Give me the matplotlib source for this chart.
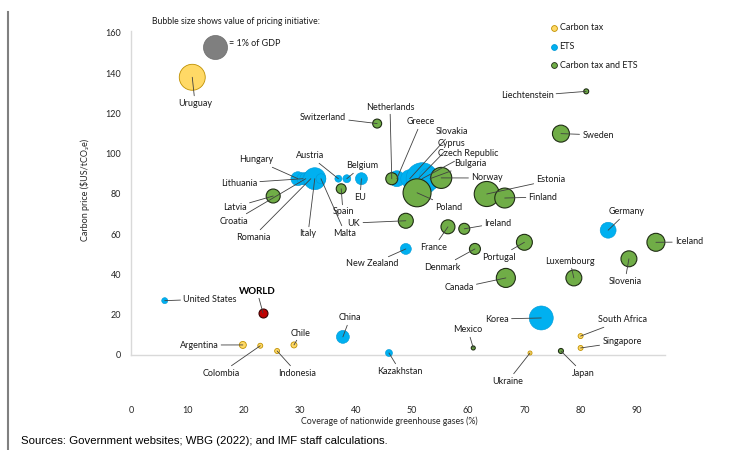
import matplotlib
matplotlib.use("Agg")
import matplotlib.pyplot as plt
from matplotlib.lines import Line2D

# ---------------- data ----------------
tax_names = ["Uruguay", "Argentina", "Colombia", "Indonesia", "Chile", "Ukraine",
             "South Africa", "Singapore"]
tax_cov = [10.9, 19.9, 23.0, 26.0, 29.0, 71.0, 80.0, 80.0]
tax_price = [138.0, 5.0, 4.6, 2.0, 5.0, 1.0, 9.4, 3.5]
tax_value = [1.17, 0.085, 0.043, 0.043, 0.063, 0.028, 0.043, 0.043]

ets_names = ["United States", "China", "Kazakhstan", "Korea", "New Zealand", "Germany",
             "Hungary", "Lithuania", "Croatia", "Romania", "Italy", "Malta", "Austria",
             "Belgium", "EU", "Greece", "Slovakia", "Cyprus", "Czech Republic", "Bulgaria"]
ets_cov = [6.0, 37.7, 45.9, 73.0, 48.9, 84.9,
           29.7, 30.6, 31.1, 32.0, 32.7, 33.8, 36.9,
           38.4, 41.0, 47.3, 49.6, 51.1, 51.8, 53.2]
ets_price = [27.0, 9.0, 1.0, 18.4, 52.7, 62.0,
             87.6, 87.6, 87.6, 87.6, 87.6, 87.6, 87.6,
             87.6, 87.6, 87.6, 87.6, 87.6, 87.6, 87.6]
ets_value = [0.063, 0.29, 0.085, 1.0, 0.21, 0.44,
             0.34, 0.25, 0.25, 0.44, 0.84, 0.17, 0.085,
             0.11, 0.25, 0.44, 0.56, 0.25, 1.78, 0.84]

both_names = ["Liechtenstein", "Sweden", "Switzerland", "Netherlands", "Latvia", "Spain",
              "Poland", "Norway", "Estonia", "Finland", "UK", "France", "Ireland",
              "Denmark", "Portugal", "Canada", "Iceland", "Luxembourg", "Slovenia",
              "Mexico", "Japan"]
both_cov = [81.0, 76.5, 43.8, 46.4, 25.3, 37.4,
            50.9, 55.2, 63.3, 66.5, 48.9, 56.4, 59.3,
            61.2, 70.0, 66.7, 93.4, 78.8, 88.6,
            60.9, 76.5]
both_price = [131.0, 110.0, 115.0, 87.6, 79.0, 82.6,
              80.6, 88.0, 80.0, 78.0, 66.7, 63.7, 62.7,
              52.7, 56.0, 38.3, 56.0, 38.3, 47.8,
              3.5, 2.0]
both_value = [0.043, 0.50, 0.14, 0.25, 0.34, 0.17,
              1.36, 0.77, 1.09, 0.69, 0.39, 0.34, 0.21,
              0.21, 0.44, 0.63, 0.56, 0.44, 0.44,
              0.028, 0.043]

world_cov, world_price, world_value = [23.5], [20.8], [0.14]
ref_cov, ref_price, ref_value = [15.0], [153.0], [1.0]   # "= 1% of GDP" key bubble

y_ticks = [0, 20, 40, 60, 80, 100, 120, 140, 160]
x_ticks = [0, 10, 20, 30, 40, 50, 60, 70, 80, 90]
legend_labels = ["Carbon tax", "ETS", "Carbon tax and ETS"]

# ---------------- layout: label centres in image pixels (x, y from top) ----------------
label_pos = {
    "Uruguay": (195, 103), "Argentina": (199, 345), "Colombia": (221, 373),
    "Indonesia": (297, 373), "Chile": (301, 333), "Ukraine": (508, 381),
    "South Africa": (623, 320), "Singapore": (622, 342),
    "United States": (210, 299), "China": (350, 318), "Kazakhstan": (400, 371),
    "Korea": (497, 319), "New Zealand": (372, 264), "Germany": (627, 212),
    "Hungary": (256, 160), "Lithuania": (239, 183), "Croatia": (234, 221),
    "Romania": (253, 237), "Italy": (308, 234), "Malta": (345, 233),
    "Austria": (310, 156), "Belgium": (362, 166), "EU": (360, 197),
    "Greece": (421, 122), "Slovakia": (452, 132), "Cyprus": (452, 144),
    "Czech Republic": (468, 154), "Bulgaria": (470, 164),
    "Liechtenstein": (527, 96), "Sweden": (598, 135), "Switzerland": (323, 117),
    "Netherlands": (390, 107), "Latvia": (235, 207), "Spain": (343, 212),
    "Poland": (449, 207), "Norway": (487, 178), "Estonia": (551, 180),
    "Finland": (543, 197), "UK": (354, 223), "France": (434, 247),
    "Ireland": (498, 223), "Denmark": (442, 267), "Portugal": (499, 257),
    "Canada": (459, 288), "Iceland": (689, 242), "Luxembourg": (570, 261),
    "Slovenia": (625, 281), "Mexico": (468, 330), "Japan": (583, 373),
}

W, H = 741, 450
fig = plt.figure(figsize=(W / 100, H / 100), dpi=100)

LABEL_FONT = ["Lato", "DejaVu Sans"]
AXIS_FONT = ["Liberation Sans Narrow", "Lato", "DejaVu Sans"]

# axes mapped so that x=0 -> px 131, 5.62 px/unit ; y=0 -> px 355, 2.0125 px/unit
x0_px, xs = 131, 5.62
y0_px, ys = 355, 2.0125
xmin, xmax = 0, 95
ymin, ymax = -20, 165
left = (x0_px + xmin * xs) / W
width = (xmax - xmin) * xs / W
bottom = (H - (y0_px - ymin * ys)) / H
height = (ymax - ymin) * ys / H
ax = fig.add_axes([left, bottom, width, height])
ax.set_xlim(xmin, xmax)
ax.set_ylim(ymin, ymax)
for s in ax.spines.values():
    s.set_visible(False)
ax.patch.set_alpha(0)

# axis lines
ax.plot([0, xmax], [0, 0], color="#D9D9D9", lw=1.0, zorder=1, clip_on=False)
ax.plot([0, 0], [0, 161], color="#D9D9D9", lw=1.0, zorder=1, clip_on=False)

ax.set_yticks(y_ticks)
ax.set_yticklabels([str(v) for v in y_ticks])
ax.set_xticks(x_ticks)
ax.set_xticklabels([str(v) for v in x_ticks])
ax.tick_params(axis="both", length=0, labelsize=6.5, colors="#262626")
ax.tick_params(axis="y", pad=7.2)
ax.tick_params(axis="x", pad=7.5)
for t in ax.get_xticklabels() + ax.get_yticklabels():
    t.set_family(AXIS_FONT)

SCALE = 298.6  # points^2 per 1% of GDP (1% of GDP -> ~24 px diameter)

YELLOW, YELLOW_E = "#FFD966", "#BF9000"
BLUE, BLUE_E = "#00B0F0", "#0099D6"
GREEN, GREEN_E = "#70AD47", "#1F2D14"

ax.scatter(ref_cov, ref_price, s=[v * SCALE for v in ref_value], color="#7F7F7F",
           edgecolor="#6B6B6B", lw=0.5, zorder=3, clip_on=False)
ax.scatter(tax_cov, tax_price, s=[v * SCALE for v in tax_value], color=YELLOW,
           edgecolor=YELLOW_E, lw=0.6, zorder=3, clip_on=False)
ax.scatter(ets_cov, ets_price, s=[v * SCALE for v in ets_value], color=BLUE,
           edgecolor=BLUE_E, lw=0.4, zorder=3, clip_on=False)
ax.scatter(both_cov, both_price, s=[v * SCALE for v in both_value], color=GREEN,
           edgecolor=GREEN_E, lw=0.8, zorder=4, clip_on=False)
ax.scatter(world_cov, world_price, s=[v * SCALE for v in world_value], color="#C00000",
           edgecolor="#3A0000", lw=0.8, zorder=4, clip_on=False)

arrow = dict(arrowstyle="-", color="#404040", lw=0.6, shrinkA=0, shrinkB=0)


def label(names, xs_, ys_):
    for n, x, y in zip(names, xs_, ys_):
        px, py = label_pos[n]
        ax.annotate(n, xy=(x, y), xytext=(px, H - py), textcoords="figure pixels",
                    ha="center", va="center", fontsize=6.5, family=LABEL_FONT,
                    color="#1A1A1A", arrowprops=arrow, zorder=6,
                    annotation_clip=False)


label(tax_names, tax_cov, tax_price)
label(ets_names, ets_cov, ets_price)
label(both_names, both_cov, both_price)
ax.annotate("WORLD", xy=(world_cov[0], world_price[0]), xytext=(257, H - 291),
            textcoords="figure pixels", ha="center", va="center", fontsize=7,
            fontweight="bold", family=LABEL_FONT, color="#000000",
            arrowprops=arrow, zorder=6, annotation_clip=False)

# ---------------- overlay for free text ----------------
ov = fig.add_axes([0, 0, 1, 1])
ov.set_xlim(0, W)
ov.set_ylim(H, 0)
ov.axis("off")
ov.patch.set_alpha(0)

ov.text(236, 21, "Bubble size shows value of pricing initiative:", ha="center",
        va="center", fontsize=6.2, family=LABEL_FONT, color="#1A1A1A")
ov.text(229, 43, "= 1% of GDP", ha="left", va="center", fontsize=6.5,
        family=LABEL_FONT, color="#1A1A1A")

leg_cols = [(YELLOW, YELLOW_E), (BLUE, BLUE_E), (GREEN, GREEN_E)]
for i, (lab, (fc, ec)) in enumerate(zip(legend_labels, leg_cols)):
    yy = 28 + i * 18.7
    ov.add_line(Line2D([554], [yy], marker="o", markersize=4.2, markerfacecolor=fc,
                       markeredgecolor=ec, markeredgewidth=0.6, linestyle="none"))
    ov.text(559.5, yy, lab, ha="left", va="center", fontsize=6.5,
            family=LABEL_FONT, color="#1A1A1A")

ov.text(85, 190, "Carbon price ($US/tCO\u2082e)", rotation=90, ha="center",
        va="center", fontsize=6.5, family=AXIS_FONT, color="#262626")
ov.text(389, 421, "Coverage of nationwide greenhouse gases (%)", ha="center",
        va="center", fontsize=6.3, family=AXIS_FONT, color="#262626")
ov.text(21, 441, "Sources: Government websites; WBG (2022); and IMF staff calculations.",
        ha="left", va="center", fontsize=8.2, family=["Liberation Sans", "DejaVu Sans"],
        color="#000000")
ov.add_line(Line2D([8, 8], [12, H], color="#808080", lw=1.5))

fig.savefig("out.png", dpi=100)
